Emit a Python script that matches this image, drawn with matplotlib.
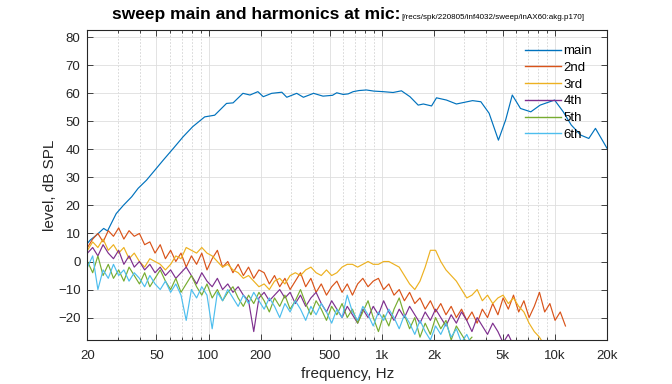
#plot the measured sweep response and the harmonic distortion levels at the mic
import matplotlib
matplotlib.use('Agg')
import matplotlib.pyplot as plt
from matplotlib.ticker import FixedLocator, NullFormatter
import numpy as np

plt.rcParams['font.family'] = ['Liberation Sans', 'DejaVu Sans']

title_main = 'sweep main and harmonics at mic:'
title_path = '[/recs/spk/220805/inf4032/sweep/inAX60:akg.p170]'
labels = ['main', '2nd', '3rd', '4th', '5th', '6th']
colors = ['#0072BD', '#D95319', '#EDB120', '#7E2F8E', '#77AC30', '#4DBEEE']
xticks = [20, 50, 100, 200, 500, 1000, 2000, 5000, 10000, 20000]
xticklabels = ['20', '50', '100', '200', '500', '1k', '2k', '5k', '10k', '20k']

#main (fundamental) response
main_f = [20, 20.7, 22.5, 24.8, 26.1, 29.3, 32.3, 36, 39.2, 43.8, 49, 54.8, 62.7,
          71.3, 81, 95, 108.5, 127, 138.6, 158, 173.5, 192.7, 207, 231.5, 265, 283,
          323, 353, 404, 458, 520, 550, 599, 640, 684, 740, 816, 900, 1018, 1163,
          1300, 1456, 1624, 1740, 1940, 2072, 2366, 2700, 3346, 3737, 4170, 4720,
          5196, 5675, 6330, 7260, 8220, 9960, 11180, 12430, 14100, 15700, 17150, 20000]
main_db = [6.5, 7.6, 9.4, 11.8, 10.9, 17.1, 20.1, 23.1, 26.1, 29.0, 32.6, 36.2, 40.4,
           44.5, 48.1, 51.6, 52.2, 56.4, 56.6, 60.0, 59.4, 60.6, 58.8, 60.0, 60.4, 58.6,
           60.0, 58.6, 60.0, 59.0, 59.3, 60.2, 59.6, 59.8, 60.6, 61.0, 61.2, 60.8, 60.6, 60.3,
           60.9, 58.8, 55.8, 56.2, 55.5, 58.4, 57.6, 56.2, 57.4, 57.0, 52.9, 43.3,
           50.5, 59.4, 54.6, 53.4, 55.8, 57.6, 53.4, 48.7, 45.1, 43.9, 47.5, 40.4]

#harmonic levels on a log frequency grid (0.03 decade steps from 20 Hz)
freq_h = np.geomspace(20, 20000, 101)
h2_db = [5, 8, 10, 7, 11, 9, 12, 8, 11, 9, 10, 6, 7, 3, 6, 1, 4, 0, 3, -2,
         2, -1, 3, -3, 1, 4, -2, 0, -4, -1, -5, -2, -6, -3, -4, -8, -5, -9, -6, -10,
         -7, -4, -9, -6, -11, -8, -12, -9, -7, -11, -8, -12, -8, -6, -9, -7, -6, -10, -8, -12,
         -10, -14, -11, -15, -13, -17, -14, -18, -15, -19, -16, -20, -17, -21, -18, -22, -17, -20, -15, -19,
         -13, -17, -12, -18, -14, -20, -16, -11, -18, -15, -21, -18, -23]
h3_db = [4, 7, 5, 8, 4, 6, 3, 5, 1, 3, 0, -2, 1, 0, -1, -3, -1, 2, 1, 5,
         4, 3, 5, 3, 2, 0, -2, -1, -3, -4, -6, -5, -7, -9, -8, -10, -7, -6, -8, -5,
         -4, -5, -3, -2, -4, -5, -3, -5, -4, -2, -1, -1, -2, -1, 0, -1, -1, 0, 0, -1,
         -2, -5, -8, -10, -7, -2, 4, 4, 0, -3, -5, -7, -10, -13, -12, -10, -14, -12, -15, -13,
         -12, -15, -13, -16, -18, -22, -25, -27, -30]
h4_db = [3, 5, 2, 6, 3, 1, 4, -1, 2, -2, 0, -3, -1, -4, -2, -5, -3, -6, -4, -2,
         -5, -8, -4, -7, -9, -6, -10, -8, -11, -9, -12, -14, -25, -13, -11, -14, -12, -10, -13, -11,
         -15, -12, -16, -13, -11, -15, -18, -14, -17, -20, -16, -19, -22, -17, -20, -16, -19, -14, -18, -21,
         -17, -20, -16, -19, -22, -18, -21, -17, -20, -23, -19, -22, -18, -21, -25, -20, -23, -26, -22, -25,
         -29, -26, -30]
h5_db = [0, -4, 2, -5, -1, -6, -3, -7, -2, -5, -8, -4, -9, -6, -3, -7, -10, -6, -11, -8,
         -5, -9, -12, -8, -13, -10, -14, -11, -9, -13, -16, -12, -15, -11, -14, -18, -13, -16, -12, -17,
         -14, -10, -15, -19, -14, -17, -21, -16, -19, -15, -20, -17, -22, -18, -14, -20, -25, -19, -23, -17,
         -13, -19, -24, -20, -27, -22, -26, -20, -24, -21, -28, -23, -26, -29, -27]
h6_db = [-2, 2, -10, -3, -6, -1, -5, -3, -7, -4, -6, -9, -5, -8, -10, -7, -11, -8, -12, -21,
         -10, -13, -9, -12, -24, -11, -14, -10, -13, -16, -12, -15, -11, -14, -17, -13, -16, -20, -15, -18,
         -14, -17, -21, -16, -19, -15, -18, -22, -17, -20, -12, -18, -21, -16, -19, -23, -18, -21, -17, -20,
         -24, -19, -22, -26, -21, -25, -28, -23, -26, -22, -27, -24, -29, -26, -30]
harmonics = [h2_db, h3_db, h4_db, h5_db, h6_db]

fig = plt.figure(figsize=(6.72, 3.84), dpi=100)
ax = fig.add_axes([0.1302, 0.1146, 0.7731, 0.8073])

ax.semilogx(main_f, main_db, color=colors[0], linewidth=0.85, label=labels[0])
for k in range(len(harmonics)):
    vals = harmonics[k]
    ax.semilogx(freq_h[:len(vals)], vals, color=colors[k + 1], linewidth=0.85, label=labels[k + 1])

ax.set_xlim(20, 20000)
ax.set_ylim(-28, 82.6)
ax.set_xticks(xticks)
ax.set_xticklabels(xticklabels)
minor = [m * d for d in [10, 100, 1000, 10000] for m in range(1, 10) if 20 <= m * d <= 20000 and m * d not in xticks]
ax.xaxis.set_minor_locator(FixedLocator(minor))
ax.xaxis.set_minor_formatter(NullFormatter())
ax.set_yticks(range(-20, 81, 10))

# grid like matlab: solid at ticks, dotted for minor
ax.grid(which='major', color='#dedede', linestyle='-', linewidth=0.6)
ax.grid(which='minor', axis='x', color='#d2d2d2', linestyle=(0, (2, 2)), linewidth=0.6)
ax.set_axisbelow(True)

for s in ax.spines.values():
    s.set_color('#262626')
    s.set_linewidth(0.8)
ax.tick_params(which='both', direction='in', top=True, right=True, colors='#262626', labelsize=9.5)
ax.tick_params(which='major', length=4, width=0.6)
ax.tick_params(which='minor', length=2, width=0.6)
ax.tick_params(axis='x', pad=7)
ax.tick_params(axis='y', pad=5)

ax.set_xlabel('frequency, Hz', fontsize=11, color='#262626', labelpad=4)
ax.set_ylabel('level, dB SPL', fontsize=11, color='#262626', labelpad=1)

leg = ax.legend(loc='upper left', bbox_to_anchor=(525 / 672, 1 - 45 / 384), bbox_transform=fig.transFigure,
                frameon=False, fontsize=9.5, handlelength=2.7, handletextpad=0.2, labelspacing=0.34,
                borderpad=0, borderaxespad=0)
for line in leg.get_lines():
    line.set_linewidth(1.0)

# title: bold part followed by a smaller path part, both centred over the axes
t1 = fig.text(0, 1 - 19 / 384, title_main, fontsize=12.5, fontweight='bold', va='baseline')
t2 = fig.text(0, 1 - 19 / 384, title_path, fontsize=5.8, va='baseline')
fig.canvas.draw()
r = fig.canvas.get_renderer()
w1 = t1.get_window_extent(r).width / fig.bbox.width
w2 = t2.get_window_extent(r).width / fig.bbox.width
x0 = 0.1302 + 0.7731 / 2 - (w1 + w2) / 2
t1.set_x(x0)
t2.set_x(x0 + w1 + 1 / 672)

fig.savefig('out.png', dpi=100)
